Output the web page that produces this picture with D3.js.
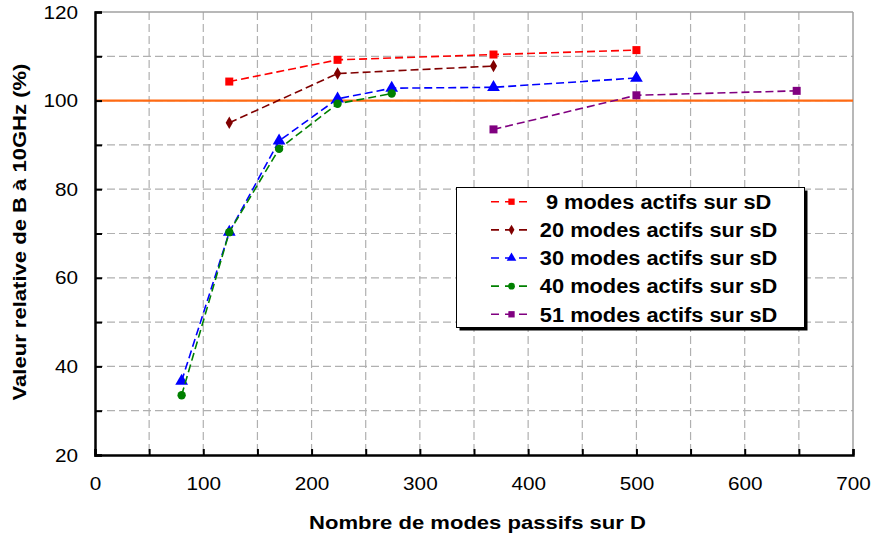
<!DOCTYPE html>
<html><head><meta charset="utf-8">
<script src="https://cdn.jsdelivr.net/npm/d3@7"></script>
<style>body{margin:0;background:#fff}svg{display:block}</style>
</head><body>
<svg id="chart" width="873" height="537"></svg>
<script>
const xTicks = [0,100,200,300,400,500,600,700];
const yTicks = [20,40,60,80,100,120];
const seriesNames = ["9 modes actifs sur sD","20 modes actifs sur sD","30 modes actifs sur sD","40 modes actifs sur sD","51 modes actifs sur sD"];
const x9 = [124,224,368,500];            const y9 = [104.3,109.2,110.4,111.4];
const x20 = [124,224,368];               const y20 = [95.0,106.1,107.8];
const x30 = [80,124,170,224,274,368,500]; const y30 = [36.7,70.3,90.9,100.4,102.8,103.0,105.1];
const x40 = [80,124,170,224,274];        const y40 = [33.5,70.3,89.1,99.3,101.6];
const x51 = [368,500,648];               const y51 = [93.5,101.2,102.2];
const refValue = 100;

const colors = ["#FF0000","#800000","#0000FF","#008000","#800080"];
const shapes = [d3.symbolSquare, d3.symbolDiamond, d3.symbolTriangle, d3.symbolCircle, d3.symbolSquare];
const sizes = [64, 45, 70, 55, 64];
const legSizes = [40, 30, 40, 36, 40];
const xs = [x9,x20,x30,x40,x51], ys=[y9,y20,y30,y40,y51];
const FONT = "Arial, 'Liberation Sans', sans-serif";

function stretch(sel, f){
  sel.each(function(){
    const w = this.getComputedTextLength();
    if (w>0) d3.select(this).attr("textLength", w*f).attr("lengthAdjust","spacingAndGlyphs");
  });
}

const svg = d3.select("#chart");
const L=95,R=853,T=12,B=455;
const x = d3.scaleLinear().domain([0,700]).range([L,R]);
const y = d3.scaleLinear().domain([20,120]).range([B,T]);

// grid
const g = svg.append("g");
d3.range(50,700,50).forEach(v=>g.append("line").attr("x1",x(v)).attr("x2",x(v)).attr("y1",T).attr("y2",B)
  .attr("stroke","#b0b0b0").attr("stroke-width",1.2).attr("stroke-dasharray","8,4"));
d3.range(30,120,10).forEach(v=>g.append("line").attr("x1",L).attr("x2",R).attr("y1",y(v)).attr("y2",y(v))
  .attr("stroke","#b0b0b0").attr("stroke-width",1.2).attr("stroke-dasharray","8,4"));
g.append("line").attr("x1",L).attr("x2",R).attr("y1",T).attr("y2",T).attr("stroke","#a0a0a0").attr("stroke-width",1.5);
g.append("line").attr("x1",R).attr("x2",R).attr("y1",T).attr("y2",B).attr("stroke","#a0a0a0").attr("stroke-width",1.5);

// reference line
svg.append("line").attr("x1",L).attr("x2",R).attr("y1",y(refValue)).attr("y2",y(refValue))
  .attr("stroke","#FF6A13").attr("stroke-width",2.2);

// axes
const xAxis = d3.axisBottom(x).tickValues(d3.range(0,701,50)).tickSize(-6).tickFormat(d=>xTicks.includes(d)?d:"").tickPadding(22);
const yAxis = d3.axisLeft(y).tickValues(d3.range(20,121,10)).tickSize(-7).tickFormat(d=>yTicks.includes(d)?d:"").tickPadding(17);
const gx = svg.append("g").attr("transform",`translate(0,${B})`).call(xAxis);
const gy = svg.append("g").attr("transform",`translate(${L},0)`).call(yAxis);
[gx,gy].forEach(a=>{
  a.select(".domain").attr("stroke","#000").attr("stroke-width",2.5);
  a.selectAll(".tick line").attr("stroke","#000").attr("stroke-width",2);
  a.selectAll("text").attr("font-family",FONT).attr("font-size",19).attr("fill","#000");
  stretch(a.selectAll("text"), 1.09);
});
gx.selectAll("text").attr("dy","0.71em");

// series
const line = d3.line().x(d=>x(d[0])).y(d=>y(d[1]));
xs.forEach((xv,i)=>{
  const pts = xv.map((v,j)=>[v,ys[i][j]]);
  svg.append("path").attr("d",line(pts)).attr("fill","none").attr("stroke",colors[i])
    .attr("stroke-width",1.6).attr("stroke-dasharray","8,4");
  svg.append("g").selectAll("path").data(pts).join("path")
    .attr("transform",d=>`translate(${x(d[0])},${y(d[1])})`)
    .attr("d",d3.symbol().type(shapes[i]).size(sizes[i])).attr("fill",colors[i]);
});

// legend
const lg = svg.append("g");
lg.append("rect").attr("x",459.5).attr("y",190.5).attr("width",348).attr("height",140).attr("fill","#000");
lg.append("rect").attr("x",456.5).attr("y",187.5).attr("width",348).attr("height",140).attr("fill","#fff").attr("stroke","#000").attr("stroke-width",1);
seriesNames.forEach((n,i)=>{
  const ly = 201.7 + i*28.15;
  lg.append("line").attr("x1",491).attr("x2",531).attr("y1",ly).attr("y2",ly).attr("stroke",colors[i]).attr("stroke-width",1.6).attr("stroke-dasharray","8,6");
  lg.append("path").attr("transform",`translate(511.5,${ly})`).attr("d",d3.symbol().type(shapes[i]).size(legSizes[i])).attr("fill",colors[i]);
  const t = lg.append("text").attr("x",658.6).attr("y",ly).attr("dy","0.36em").attr("text-anchor","middle")
    .attr("font-family",FONT).attr("font-weight","bold").attr("font-size",20).text(n);
  stretch(t, 1.09);
});

// titles
const xt = svg.append("text").attr("x",477.5).attr("y",522).attr("dy","0.36em").attr("text-anchor","middle")
  .attr("font-family",FONT).attr("font-weight","bold").attr("font-size",19).text("Nombre de modes passifs sur D");
stretch(xt, 1.16);
const yt = svg.append("text").attr("transform","translate(19,232) rotate(-90)").attr("dy","0.36em").attr("text-anchor","middle")
  .attr("font-family",FONT).attr("font-weight","bold").attr("font-size",19).text("Valeur relative de B à 10GHz (%)");
stretch(yt, 1.16);
</script>
</body></html>
